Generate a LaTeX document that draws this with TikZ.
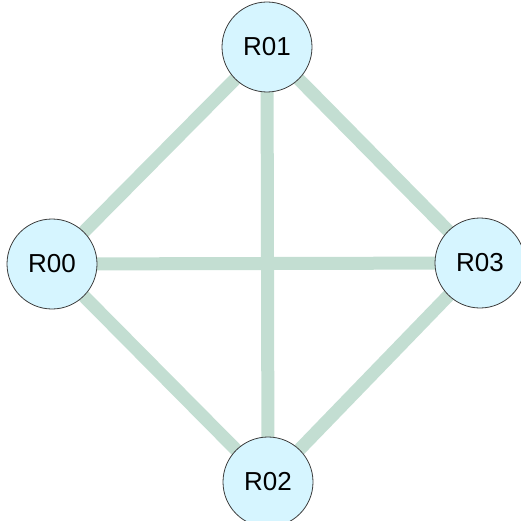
\documentclass[tikz,border=0pt]{standalone}
\usepackage{fontspec}
\setmainfont{Liberation Sans}
\usetikzlibrary{backgrounds}
\definecolor{linkgreen}{RGB}{195,222,210}
\definecolor{routerfill}{RGB}{214,245,255}
\definecolor{routerline}{RGB}{60,60,60}
\tikzset{
  router/.style={circle, draw=routerline, line width=0.8pt, fill=routerfill,
    minimum size=90pt, inner sep=0pt, font=\fontsize{26}{30}\selectfont},
  link/.style={draw=linkgreen, line width=13pt}
}
\begin{document}
\begin{tikzpicture}[x=1pt, y=-1pt]
\useasboundingbox (0,0) rectangle (520,521);
\node[router] (r01) at (267,47) {R01};
\node[router] (r00) at (52,264) {R00};
\node[router] (r03) at (480,263) {R03};
\node[router] (r02) at (268,482) {R02};
\begin{pgfonlayer}{background}
\draw[link] (r00.center) -- (r01.center);
\draw[link] (r01.center) -- (r03.center);
\draw[link] (r03.center) -- (r02.center);
\draw[link] (r02.center) -- (r00.center);
\draw[link] (r00.center) -- (r03.center);
\draw[link] (r01.center) -- (r02.center);
\end{pgfonlayer}
\end{tikzpicture}
\end{document}
